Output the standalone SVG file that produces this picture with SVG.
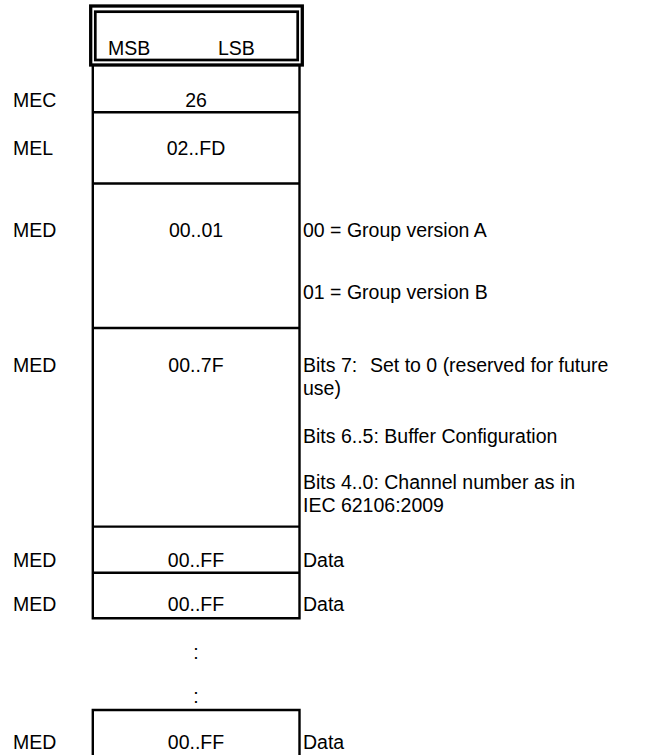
<svg xmlns="http://www.w3.org/2000/svg" width="656" height="755" viewBox="0 0 656 755">
<style>
text{font-family:"Liberation Sans",Arial,sans-serif;font-size:19.5px;fill:#000}
.c{text-anchor:middle}
.ln{stroke:#000;stroke-width:2.4;fill:none}
</style>
<rect width="656" height="755" fill="#fff"/>
<g id="header">
<rect x="90.7" y="6" width="211.6" height="59" fill="none" stroke="#000" stroke-width="3.3"/>
<rect x="95.3" y="11.7" width="202.4" height="48.3" fill="none" stroke="#000" stroke-width="2.7"/>
<text x="108" y="55">MSB</text>
<text x="218" y="55">LSB</text>
</g>
<g id="connectors">
<path class="ln" d="M92.8 65V618.3H299.5V65M92.8 112.3H299.5M92.8 183.5H299.5M92.8 328H299.5M92.8 526.6H299.5M92.8 572.8H299.5"/>
<path class="ln" d="M92.8 755V710H299.5V755"/>
</g>
<g id="mec"><text x="13" y="107">MEC</text><text class="c" x="196" y="107">26</text></g>
<g id="mel"><text x="13" y="155">MEL</text><text class="c" x="196" y="155">02..FD</text></g>
<g id="med1"><text x="13" y="237">MED</text><text class="c" x="196" y="237">00..01</text>
<text x="303" y="237">00 = Group version A</text>
<text x="303" y="299">01 = Group version B</text></g>
<g id="med2"><text x="13" y="372">MED</text><text class="c" x="196" y="372">00..7F</text>
<text x="303" y="372">Bits 7:</text><text x="370" y="372">Set to 0 (reserved for future</text>
<text x="303" y="395">use)</text>
<text x="303" y="443">Bits 6..5: Buffer Configuration</text>
<text x="303" y="489">Bits 4..0: Channel number as in</text>
<text x="303" y="512">IEC 62106:2009</text></g>
<g id="med3"><text x="13" y="567">MED</text><text class="c" x="196" y="567">00..FF</text><text x="303" y="567">Data</text></g>
<g id="med4"><text x="13" y="611">MED</text><text class="c" x="196" y="611">00..FF</text><text x="303" y="611">Data</text></g>
<g id="dots"><text class="c" x="196" y="659">:</text><text class="c" x="196" y="703">:</text></g>
<g id="med5"><text x="13" y="749">MED</text><text class="c" x="196" y="749">00..FF</text><text x="303" y="749">Data</text></g>
</svg>
